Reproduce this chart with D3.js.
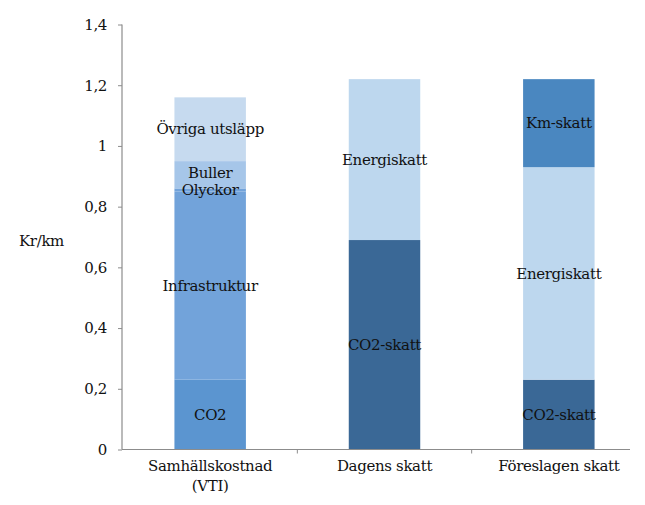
<!DOCTYPE html>
<html>
<head>
<meta charset="utf-8">
<script src="https://cdn.jsdelivr.net/npm/d3@7"></script>
<style>
  html, body { margin: 0; padding: 0; background: #fff; }
  svg { display: block; }
</style>
</head>
<body>
<svg id="chart" width="645" height="505"></svg>
<script>
// Categories (x axis); the first label wraps onto two lines
const categories = ["Samhällskostnad (VTI)", "Dagens skatt", "Föreslagen skatt"];
const categoryLines = [["Samhällskostnad", "(VTI)"], ["Dagens skatt"], ["Föreslagen skatt"]];

// Stacked segments per bar, bottom to top (Kr/km)
const segNames = [
  ["CO2", "Infrastruktur", "Olyckor", "Buller", "Övriga utsläpp"],
  ["CO2-skatt", "Energiskatt"],
  ["CO2-skatt", "Energiskatt", "Km-skatt"]
];
const segValues = [
  [0.23, 0.62, 0.01, 0.09, 0.21],
  [0.69, 0.53],
  [0.23, 0.70, 0.29]
];
const segColors = [
  ["#5b95d0", "#72a3da", "#72a3da", "#a6c6e9", "#c6daef"],
  ["#3a6896", "#bdd7ee"],
  ["#3a6896", "#bdd7ee", "#4a87c0"]
];
// Segment labels, nudged where two thin segments share space
const labelShift = [[0, 0, 0, -2, 0], [0, 0], [0, 0, 0]];

const yTicks = [0, 0.2, 0.4, 0.6, 0.8, 1, 1.2, 1.4];
const yTitle = "Kr/km";

const FONT = "DejaVu Serif";
const svg = d3.select("#chart").attr("font-family", FONT);
const axisColor = "#8c8c8c";
const fontSize = 15;
const textColor = "#111111";

const y = d3.scaleLinear().domain([0, 1.4]).range([449.5, 24.5]);
const x = d3.scaleBand().domain(categories).range([123, 646])
  .paddingInner(0.59).paddingOuter(0.295);

const sv = d3.formatLocale({ decimal: ",", thousands: " ", grouping: [3], currency: ["", " kr"] });
const fmt = sv.format(".1~f");

function label(sel) {
  return sel.attr("font-family", FONT).attr("font-size", fontSize).attr("fill", textColor)
    .attr("letter-spacing", -0.35);
}

// Bars
categories.forEach((cat, i) => {
  let base = 0;
  const g = svg.append("g");
  segValues[i].forEach((v, j) => {
    const y0 = y(base), y1 = y(base + v);
    g.append("rect")
      .attr("x", x(cat)).attr("width", x.bandwidth())
      .attr("y", y1).attr("height", y0 - y1)
      .attr("fill", segColors[i][j]);
    base += v;
  });
});

// Segment labels (drawn after all bars so they sit on top)
categories.forEach((cat, i) => {
  let base = 0;
  segValues[i].forEach((v, j) => {
    const mid = y(base + v / 2) + labelShift[i][j];
    svg.append("text")
      .attr("x", x(cat) + x.bandwidth() / 2)
      .attr("y", mid)
      .attr("dy", "0.35em")
      .attr("text-anchor", "middle")
      .call(label)
      .text(segNames[i][j]);
    base += v;
  });
});

// Y axis
const yAxis = d3.axisLeft(y).tickValues(yTicks).tickFormat(fmt).tickSize(4).tickPadding(11);
const gy = svg.append("g").attr("transform", "translate(122,0)").call(yAxis);
gy.attr("font-family", FONT);
gy.select(".domain").attr("stroke", axisColor).attr("stroke-width", 1.2).attr("d", `M0,${y(1.4)}V${y(0)}`);
gy.selectAll(".tick line").attr("stroke", axisColor);
gy.selectAll(".tick text").call(label);

// X axis line with ticks at category boundaries
const xEnd = 630;
svg.append("line").attr("x1", 122).attr("x2", xEnd).attr("y1", y(0)).attr("y2", y(0))
  .attr("stroke", axisColor).attr("stroke-width", 1.2);
const bounds = categories.slice(1).map(c => x(c) - x.step() * x.paddingInner() / 2);
svg.selectAll(".xb").data(bounds).join("line")
  .attr("x1", d => d).attr("x2", d => d)
  .attr("y1", y(0)).attr("y2", y(0) + 4)
  .attr("stroke", axisColor);

// Category labels
categories.forEach((cat, i) => {
  const t = svg.append("text")
    .attr("x", x(cat) + x.bandwidth() / 2)
    .attr("y", 471)
    .attr("text-anchor", "middle")
    .call(label);
  categoryLines[i].forEach((line, k) => {
    t.append("tspan").attr("x", x(cat) + x.bandwidth() / 2)
      .attr("dy", k === 0 ? 0 : 20).text(line);
  });
});

// Y axis title
svg.append("text")
  .attr("x", 19).attr("y", 241)
  .attr("dy", "0.35em")
  .call(label)
  .text(yTitle);
</script>
</body>
</html>
